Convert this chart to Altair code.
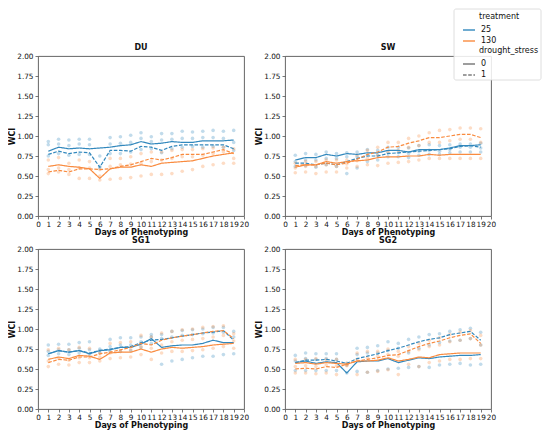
import altair as alt
import pandas as pd

days = list(range(1, 20))
panels = ["DU", "SW", "SG1", "SG2"]
treatments = ["25", "130"]
stress_levels = ["0", "1"]
x_ticks = list(range(0, 21))
y_ticks = [0, 0.25, 0.5, 0.75, 1.0, 1.25, 1.5, 1.75, 2.0]

BLUE = "#3288bd"
ORANGE = "#f98b3f"

# ---- mean lines (treatment, drought_stress) ----
du_25_0 = [0.81, 0.86, 0.84, 0.85, 0.84, 0.85, 0.86, 0.88, 0.89, 0.93, 0.90, 0.91, 0.93, 0.92, 0.92, 0.94, 0.94, 0.94, 0.95]
du_25_1 = [0.77, 0.81, 0.78, 0.80, 0.79, 0.61, 0.82, 0.82, 0.81, 0.87, 0.86, 0.82, 0.87, 0.89, 0.89, 0.89, 0.89, 0.89, 0.84]
du_130_0 = [0.62, 0.64, 0.62, 0.61, 0.59, 0.47, 0.59, 0.61, 0.61, 0.64, 0.62, 0.66, 0.67, 0.68, 0.69, 0.72, 0.75, 0.77, 0.79]
du_130_1 = [0.55, 0.57, 0.55, 0.59, 0.59, 0.58, 0.59, 0.62, 0.64, 0.68, 0.72, 0.70, 0.73, 0.77, 0.77, 0.77, 0.80, 0.83, 0.78]

sw_25_0 = [0.70, 0.73, 0.73, 0.77, 0.75, 0.78, 0.77, 0.79, 0.79, 0.82, 0.82, 0.80, 0.83, 0.83, 0.83, 0.85, 0.88, 0.88, 0.89]
sw_25_1 = [0.66, 0.66, 0.64, 0.66, 0.64, 0.68, 0.72, 0.75, 0.75, 0.78, 0.79, 0.80, 0.81, 0.82, 0.83, 0.84, 0.87, 0.88, 0.86]
sw_130_0 = [0.61, 0.64, 0.64, 0.68, 0.66, 0.68, 0.69, 0.70, 0.73, 0.74, 0.74, 0.75, 0.75, 0.77, 0.76, 0.77, 0.77, 0.77, 0.77]
sw_130_1 = [0.63, 0.64, 0.64, 0.66, 0.64, 0.66, 0.71, 0.77, 0.80, 0.86, 0.87, 0.91, 0.94, 0.98, 0.98, 1.00, 1.02, 1.02, 0.98]

sg1_25_0 = [0.69, 0.73, 0.71, 0.73, 0.69, 0.73, 0.74, 0.77, 0.77, 0.81, 0.88, 0.77, 0.79, 0.80, 0.80, 0.82, 0.86, 0.83, 0.83]
sg1_25_1 = [0.69, 0.73, 0.71, 0.73, 0.70, 0.73, 0.75, 0.77, 0.78, 0.83, 0.86, 0.87, 0.89, 0.91, 0.93, 0.95, 0.96, 0.98, 0.86]
sg1_130_0 = [0.62, 0.65, 0.63, 0.67, 0.66, 0.62, 0.70, 0.71, 0.71, 0.75, 0.71, 0.75, 0.77, 0.76, 0.77, 0.78, 0.80, 0.81, 0.82]
sg1_130_1 = [0.58, 0.62, 0.61, 0.65, 0.65, 0.69, 0.71, 0.74, 0.77, 0.82, 0.80, 0.86, 0.89, 0.91, 0.93, 0.95, 0.97, 0.98, 0.88]

sg2_25_0 = [0.58, 0.60, 0.57, 0.59, 0.58, 0.45, 0.59, 0.60, 0.60, 0.63, 0.58, 0.61, 0.64, 0.63, 0.65, 0.66, 0.67, 0.67, 0.68]
sg2_25_1 = [0.58, 0.61, 0.61, 0.62, 0.60, 0.57, 0.63, 0.66, 0.69, 0.73, 0.76, 0.80, 0.84, 0.87, 0.89, 0.93, 0.95, 0.97, 0.86]
sg2_130_0 = [0.57, 0.58, 0.56, 0.58, 0.57, 0.56, 0.60, 0.60, 0.61, 0.64, 0.60, 0.62, 0.65, 0.64, 0.68, 0.69, 0.70, 0.70, 0.70]
sg2_130_1 = [0.50, 0.51, 0.50, 0.53, 0.52, 0.56, 0.60, 0.62, 0.64, 0.67, 0.68, 0.73, 0.78, 0.82, 0.85, 0.89, 0.92, 0.94, 0.82]

# ---- individual observations (per treatment: high / mid / low) ----
du_25_hi = [0.93, 0.96, 0.95, 0.96, 0.96, 0.75, 0.98, 0.99, 1.01, 1.04, 0.99, 1.03, 1.03, 1.06, 1.05, 1.06, 1.07, 1.06, 1.07]
du_25_mid = [0.89, 0.90, 0.88, 0.90, 0.89, 0.62, 0.90, 0.91, 0.92, 0.97, 0.93, 0.95, 0.96, 0.97, 0.97, 0.98, 0.98, 0.97, 0.92]
du_25_lo = [0.75, 0.78, 0.76, 0.77, 0.77, 0.60, 0.78, 0.78, 0.80, 0.83, 0.84, 0.79, 0.84, 0.86, 0.87, 0.86, 0.87, 0.86, 0.82]
du_130_hi = [0.70, 0.73, 0.66, 0.70, 0.68, 0.58, 0.72, 0.72, 0.74, 0.78, 0.80, 0.80, 0.82, 0.83, 0.83, 0.84, 0.85, 0.86, 0.84]
du_130_mid = [0.58, 0.60, 0.58, 0.60, 0.60, 0.50, 0.62, 0.64, 0.65, 0.66, 0.68, 0.70, 0.72, 0.74, 0.74, 0.76, 0.78, 0.80, 0.72]
du_130_lo = [0.53, 0.55, 0.52, 0.47, 0.47, 0.45, 0.46, 0.47, 0.48, 0.50, 0.52, 0.52, 0.53, 0.56, 0.58, 0.62, 0.64, 0.66, 0.66]

sw_25_hi = [0.76, 0.78, 0.77, 0.80, 0.78, 0.79, 0.80, 0.83, 0.82, 0.86, 0.86, 0.85, 0.88, 0.89, 0.88, 0.89, 0.90, 0.90, 0.91]
sw_25_mid = [0.68, 0.70, 0.70, 0.72, 0.72, 0.74, 0.74, 0.76, 0.76, 0.79, 0.79, 0.78, 0.81, 0.82, 0.81, 0.83, 0.86, 0.86, 0.85]
sw_25_lo = [0.62, 0.63, 0.61, 0.64, 0.62, 0.53, 0.60, 0.68, 0.70, 0.74, 0.74, 0.73, 0.76, 0.77, 0.77, 0.79, 0.80, 0.80, 0.80]
sw_130_hi = [0.66, 0.68, 0.68, 0.70, 0.70, 0.70, 0.76, 0.82, 0.86, 0.92, 0.92, 0.97, 1.00, 1.04, 1.07, 1.08, 1.10, 1.10, 1.09]
sw_130_mid = [0.60, 0.62, 0.62, 0.64, 0.62, 0.65, 0.69, 0.72, 0.76, 0.80, 0.82, 0.86, 0.88, 0.92, 0.92, 0.94, 0.96, 0.96, 0.92]
sw_130_lo = [0.54, 0.55, 0.53, 0.55, 0.55, 0.60, 0.62, 0.64, 0.63, 0.66, 0.67, 0.68, 0.70, 0.72, 0.72, 0.72, 0.72, 0.72, 0.72]

sg1_25_hi = [0.80, 0.81, 0.81, 0.83, 0.84, 0.75, 0.87, 0.89, 0.89, 0.90, 0.93, 0.93, 0.97, 0.98, 0.99, 1.00, 1.02, 1.02, 0.97]
sg1_25_mid = [0.72, 0.74, 0.74, 0.76, 0.74, 0.73, 0.78, 0.80, 0.80, 0.84, 0.90, 0.88, 0.90, 0.92, 0.93, 0.94, 0.95, 0.96, 0.90]
sg1_25_lo = [0.67, 0.69, 0.68, 0.70, 0.68, 0.70, 0.72, 0.72, 0.73, 0.77, 0.82, 0.56, 0.60, 0.62, 0.64, 0.66, 0.66, 0.68, 0.69]
sg1_130_hi = [0.74, 0.76, 0.74, 0.77, 0.76, 0.70, 0.82, 0.83, 0.84, 0.92, 0.90, 0.95, 0.97, 0.99, 1.00, 1.02, 1.03, 1.04, 0.94]
sg1_130_mid = [0.60, 0.63, 0.61, 0.64, 0.64, 0.65, 0.70, 0.72, 0.74, 0.78, 0.76, 0.80, 0.84, 0.86, 0.87, 0.88, 0.90, 0.92, 0.85]
sg1_130_lo = [0.53, 0.56, 0.55, 0.58, 0.58, 0.60, 0.63, 0.64, 0.65, 0.68, 0.62, 0.70, 0.72, 0.72, 0.73, 0.74, 0.76, 0.78, 0.76]

sg2_25_hi = [0.67, 0.70, 0.69, 0.69, 0.69, 0.57, 0.76, 0.77, 0.79, 0.84, 0.82, 0.87, 0.90, 0.93, 0.94, 0.97, 0.99, 1.01, 0.96]
sg2_25_mid = [0.60, 0.63, 0.62, 0.63, 0.62, 0.55, 0.68, 0.70, 0.70, 0.73, 0.76, 0.70, 0.76, 0.80, 0.83, 0.85, 0.86, 0.88, 0.80]
sg2_25_lo = [0.48, 0.48, 0.48, 0.48, 0.48, 0.45, 0.47, 0.46, 0.48, 0.50, 0.51, 0.52, 0.53, 0.52, 0.55, 0.56, 0.57, 0.55, 0.56]
sg2_130_hi = [0.62, 0.62, 0.63, 0.62, 0.62, 0.57, 0.70, 0.72, 0.72, 0.75, 0.72, 0.78, 0.82, 0.86, 0.89, 0.93, 0.96, 0.98, 0.92]
sg2_130_mid = [0.53, 0.54, 0.53, 0.55, 0.54, 0.55, 0.62, 0.64, 0.66, 0.68, 0.66, 0.72, 0.74, 0.78, 0.80, 0.84, 0.86, 0.88, 0.80]
sg2_130_lo = [0.45, 0.45, 0.44, 0.45, 0.43, 0.54, 0.43, 0.46, 0.47, 0.49, 0.43, 0.56, 0.53, 0.58, 0.60, 0.62, 0.62, 0.63, 0.63]

line_sets = {
    "DU": {("25", "0"): du_25_0, ("25", "1"): du_25_1, ("130", "0"): du_130_0, ("130", "1"): du_130_1},
    "SW": {("25", "0"): sw_25_0, ("25", "1"): sw_25_1, ("130", "0"): sw_130_0, ("130", "1"): sw_130_1},
    "SG1": {("25", "0"): sg1_25_0, ("25", "1"): sg1_25_1, ("130", "0"): sg1_130_0, ("130", "1"): sg1_130_1},
    "SG2": {("25", "0"): sg2_25_0, ("25", "1"): sg2_25_1, ("130", "0"): sg2_130_0, ("130", "1"): sg2_130_1},
}
point_sets = {
    "DU": {"25": [du_25_hi, du_25_mid, du_25_lo], "130": [du_130_hi, du_130_mid, du_130_lo]},
    "SW": {"25": [sw_25_hi, sw_25_mid, sw_25_lo], "130": [sw_130_hi, sw_130_mid, sw_130_lo]},
    "SG1": {"25": [sg1_25_hi, sg1_25_mid, sg1_25_lo], "130": [sg1_130_hi, sg1_130_mid, sg1_130_lo]},
    "SG2": {"25": [sg2_25_hi, sg2_25_mid, sg2_25_lo], "130": [sg2_130_hi, sg2_130_mid, sg2_130_lo]},
}

line_rows = []
for p, groups in line_sets.items():
    for (t, d), vals in groups.items():
        for day, v in zip(days, vals):
            line_rows.append({"panel": p, "treatment": t, "drought_stress": d, "day": day, "WCI": v})
lines_df = pd.DataFrame(line_rows)

point_rows = []
for p, groups in point_sets.items():
    for t, series in groups.items():
        for vals in series:
            for day, v in zip(days, vals):
                point_rows.append({"panel": p, "treatment": t, "day": day, "WCI": v})
points_df = pd.DataFrame(point_rows)

FONT = "DejaVu Sans"
PW, PH = 206, 160
x_scale = alt.Scale(domain=[0, 20], nice=False, zero=False)
y_scale = alt.Scale(domain=[0, 2], nice=False)
x_axis = alt.Axis(values=x_ticks, title="Days of Phenotyping", labelFontSize=7.3, tickSize=3,
                  labelPadding=1, titlePadding=1, titleFontSize=8, titleFontWeight="bold",
                  labelFlush=False, grid=False, domain=False)
y_axis = alt.Axis(values=y_ticks, format=".2f", title="WCI", labelFontSize=7.3, tickSize=3,
                  labelPadding=2, titlePadding=0, titleFontSize=8, titleFontWeight="bold",
                  grid=False, domain=False)

color_scale = alt.Scale(domain=treatments, range=[BLUE, ORANGE])
dash_scale = alt.Scale(domain=stress_levels, range=[[1, 0], [3.6, 1.6]])

LEG_X = 194
color_legend = alt.Legend(orient="none", legendX=LEG_X, legendY=-43, title="treatment",
                          symbolType="stroke", symbolSize=144, symbolStrokeWidth=1.4,
                          symbolOpacity=1, symbolOffset=-17, labelOffset=5, rowPadding=0,
                          titlePadding=2, padding=0, zindex=2)
dash_legend = alt.Legend(orient="none", legendX=LEG_X, legendY=-9, title="drought_stress",
                         symbolType="stroke", symbolSize=144, symbolStrokeWidth=1.2,
                         symbolStrokeColor="#3c3c3c", symbolOffset=-17, labelOffset=5,
                         rowPadding=0, titlePadding=2, padding=0, zindex=2)

FRAME_TOP = -47


def make_panel(name, with_legend=False):
    pts = alt.Chart(points_df).transform_filter(alt.datum.panel == name).mark_circle(
        size=13, opacity=0.3
    ).encode(
        x=alt.X("day:Q", scale=x_scale, axis=x_axis),
        y=alt.Y("WCI:Q", scale=y_scale, axis=y_axis),
        fill=alt.Fill("treatment:N", scale=color_scale, legend=None),
    )
    lns = alt.Chart(lines_df).transform_filter(alt.datum.panel == name).mark_line(
        strokeWidth=1.2
    ).encode(
        x=alt.X("day:Q", scale=x_scale, axis=x_axis),
        y=alt.Y("WCI:Q", scale=y_scale, axis=y_axis),
        color=alt.Color("treatment:N", scale=color_scale,
                        legend=color_legend if with_legend else None),
        strokeDash=alt.StrokeDash("drought_stress:N", scale=dash_scale,
                                  legend=dash_legend if with_legend else None),
    )
    layers = [pts, lns]
    offset = 0
    if with_legend:
        frame = alt.Chart(pd.DataFrame({"box": [0]})).mark_rect(
            fill="white", fillOpacity=0.85, stroke="#d6d6d6", strokeWidth=0.8, cornerRadius=2
        ).encode(x=alt.value(169), x2=alt.value(256), y=alt.value(FRAME_TOP), y2=alt.value(24))
        layers.append(frame)
        offset = FRAME_TOP + 4
    return alt.layer(*layers).properties(
        width=PW, height=PH,
        title=alt.TitleParams(name, fontSize=8, fontWeight="bold", offset=offset, font=FONT,
                              frame="group"),
    )


chart = alt.concat(
    make_panel("DU"), make_panel("SW", True), make_panel("SG1"), make_panel("SG2"),
    columns=2, spacing={"row": 33, "column": 41}, bounds="flush",
).resolve_legend(color="independent", strokeDash="independent").properties(
    padding=0
).configure(font=FONT).configure_view(
    stroke="#555555", strokeWidth=0.9
).configure_axis(
    labelFont=FONT, titleFont=FONT, labelColor="#111111", titleColor="#111111",
    tickColor="#555555", tickWidth=0.8
).configure_legend(
    labelFont=FONT, titleFont=FONT, labelFontSize=8, titleFontSize=8,
    titleFontWeight="normal", labelColor="#111111", titleColor="#111111"
).configure_title(anchor="middle", color="#111111")

chart.save("out.html", embed_options={"renderer": "svg", "actions": False})
